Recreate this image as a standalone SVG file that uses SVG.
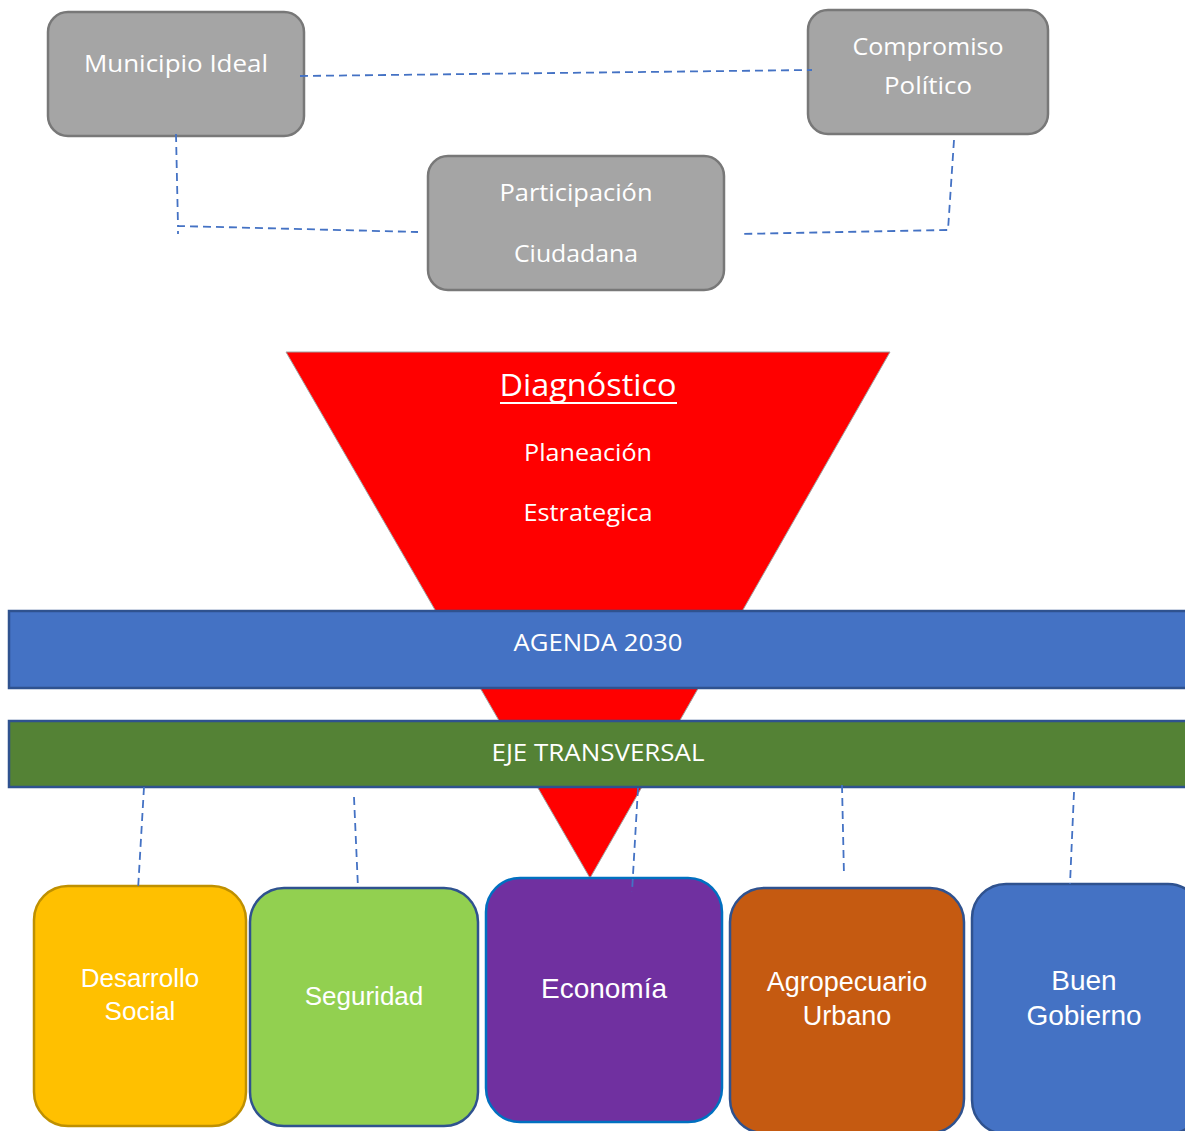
<svg xmlns="http://www.w3.org/2000/svg" width="1185" height="1131" viewBox="0 0 1185 1131">
<style>
.gbox{fill:#a5a5a5;stroke:#787878;stroke-width:2.5}
.ct{font-family:"Open Sans","Noto Sans",sans-serif;fill:#ffffff;text-anchor:middle}
.at{font-family:"Liberation Sans",Arial,sans-serif;fill:#ffffff;text-anchor:middle}
.dash{fill:none;stroke:#4472c4;stroke-width:1.8;stroke-dasharray:8,5}
.bar{stroke:#2f528f;stroke-width:2.5}
.card{stroke-width:2.5}
</style>
<rect width="1185" height="1131" fill="#ffffff"/>
<g id="tri">
<polygon points="286,352 890,352 590,878" fill="#ff0000" stroke="#a0a0a0" stroke-width="1"/>
<text class="ct" x="588" y="396" font-size="31" textLength="177" lengthAdjust="spacingAndGlyphs">Diagnóstico</text>
<line x1="500" y1="403" x2="677" y2="403" stroke="#ffffff" stroke-width="2"/>
<text class="ct" x="588" y="461" font-size="23" textLength="128" lengthAdjust="spacingAndGlyphs">Planeación</text>
<text class="ct" x="588" y="521" font-size="23" textLength="129" lengthAdjust="spacingAndGlyphs">Estrategica</text>
</g>
<g id="municipio">
<rect class="gbox" x="48" y="12" width="256" height="124" rx="20"/>
<text class="ct" x="176" y="72" font-size="24" textLength="184" lengthAdjust="spacingAndGlyphs">Municipio Ideal</text>
</g>
<g id="compromiso">
<rect class="gbox" x="808" y="10" width="240" height="124" rx="20"/>
<text class="ct" x="928" y="55" font-size="24" textLength="151" lengthAdjust="spacingAndGlyphs">Compromiso</text>
<text class="ct" x="928" y="94" font-size="24" textLength="88" lengthAdjust="spacingAndGlyphs">Político</text>
</g>
<g id="participacion">
<rect class="gbox" x="428" y="156" width="296" height="134" rx="20"/>
<text class="ct" x="576" y="201" font-size="24" textLength="153" lengthAdjust="spacingAndGlyphs">Participación</text>
<text class="ct" x="576" y="262" font-size="24" textLength="124" lengthAdjust="spacingAndGlyphs">Ciudadana</text>
</g>
<g id="agenda">
<rect class="bar" x="9" y="611" width="1180" height="77" fill="#4472c4"/>
<text class="ct" x="598" y="651" font-size="23" textLength="169" lengthAdjust="spacingAndGlyphs">AGENDA 2030</text>
</g>
<g id="eje">
<rect class="bar" x="9" y="721" width="1180" height="66" fill="#548235"/>
<text class="ct" x="598" y="761" font-size="23" textLength="213" lengthAdjust="spacingAndGlyphs">EJE TRANSVERSAL</text>
</g>
<g id="desarrollo">
<rect class="card" x="34" y="886" width="212" height="240" rx="34" fill="#ffc000" stroke="#bf9000"/>
<text class="at" x="140" y="987" font-size="26">Desarrollo</text>
<text class="at" x="140" y="1020" font-size="26">Social</text>
</g>
<g id="seguridad">
<rect class="card" x="250" y="888" width="228" height="238" rx="34" fill="#92d050" stroke="#2f528f"/>
<text class="at" x="364" y="1005" font-size="26">Seguridad</text>
</g>
<g id="economia">
<rect class="card" x="486" y="878" width="236" height="244" rx="34" fill="#7030a0" stroke="#0070c0"/>
<text class="at" x="604" y="998" font-size="28">Economía</text>
</g>
<g id="agropecuario">
<rect class="card" x="730" y="888" width="234" height="245" rx="34" fill="#c55a11" stroke="#2f528f"/>
<text class="at" x="847" y="991" font-size="27">Agropecuario</text>
<text class="at" x="847" y="1025" font-size="27">Urbano</text>
</g>
<g id="buen">
<rect class="card" x="972" y="884" width="230" height="250" rx="34" fill="#4472c4" stroke="#2f528f"/>
<text class="at" x="1084" y="990" font-size="28">Buen</text>
<text class="at" x="1084" y="1025" font-size="28">Gobierno</text>
</g>
<g id="connectors">
<path class="dash" d="M300,76 L812,70"/>
<path class="dash" d="M176,134 L178,226 L418,232"/>
<path class="dash" d="M178,231 L178,234"/>
<path class="dash" d="M954,140 L948,230 L740,234"/>
<path class="dash" d="M144,787 L138,890"/>
<path class="dash" d="M354,797 L358,888"/>
<path class="dash" d="M638,788 L632,892"/>
<path class="dash" d="M842,785 L844,876"/>
<path class="dash" d="M1074,792 L1070,884"/>
</g>
</svg>
